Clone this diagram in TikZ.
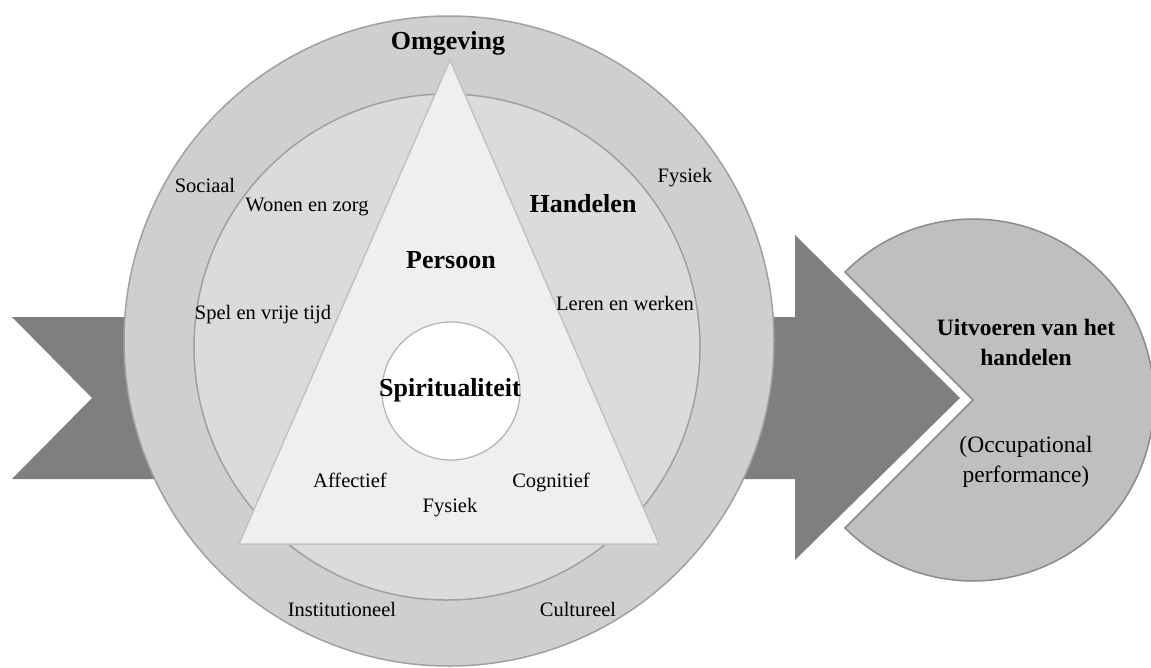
\documentclass[tikz,border=0pt]{standalone}
\usepackage{fontspec}
\setmainfont{Liberation Serif}
\definecolor{arrowc}{HTML}{7F7F7F}
\definecolor{ringc}{HTML}{CFCFCF}
\definecolor{innerc}{HTML}{DBDBDB}
\definecolor{tric}{HTML}{EFEFEF}
\definecolor{pacc}{HTML}{BFBFBF}
\definecolor{linec}{HTML}{A0A0A0}
\definecolor{trilinec}{HTML}{C2C2C2}
\definecolor{paclinec}{HTML}{8A8A8A}
\begin{document}
\begin{tikzpicture}[x=1pt,y=-1pt,
  lbl/.style={font=\fontsize{20.5}{24}\selectfont, inner sep=0pt, text=black},
  blbl/.style={font=\fontsize{26}{30}\selectfont\bfseries, inner sep=0pt, text=black},
  plbl/.style={font=\fontsize{23.5}{30}\selectfont, inner sep=0pt, align=center, text=black},
  ring/.style={draw=linec, line width=1.5pt},
  bigarrow/.style={fill=arrowc}]
\useasboundingbox (0,0) rectangle (1151,667);
% arrows behind the circle
\fill[bigarrow] (12,317) -- (300,317) -- (300,479) -- (12,479) -- (92,398) -- cycle;
\fill[bigarrow] (600,317) -- (795,317) -- (795,235) -- (960,398) -- (795,560) -- (795,479) -- (600,479) -- cycle;
% circles and triangle
\draw[ring, fill=ringc] (449,341) circle[radius=325];
\draw[ring, fill=innerc] (447,347) circle[radius=253];
\draw[draw=trilinec, line width=1.5pt, fill=tric] (450,60) -- (659,544) -- (239,544) -- cycle;
\draw[draw=linec!80, line width=1.2pt, fill=white] (451,391) circle[radius=69];
% pacman
\draw[draw=paclinec, line width=1.5pt, fill=pacc] (973,400) -- ++(225:181) arc[start angle=225, end angle=495, radius=181] -- cycle;
% labels
\node[blbl] (omg) at (448,43) {Omgeving};
\node[blbl] (pers) at (451,260) {Persoon};
\node[blbl] (spir) at (450,390) {Spiritualiteit};
\node[blbl] (hand) at (583,204) {Handelen};
\node[lbl] (soc) at (205,185) {Sociaal};
\node[lbl] (won) at (307,207) {Wonen en zorg};
\node[lbl] (fys1) at (685,178) {Fysiek};
\node[lbl] (spel) at (263,315) {Spel en vrije tijd};
\node[lbl] (leren) at (625,303) {Leren en werken};
\node[lbl] (aff) at (350,480) {Affectief};
\node[lbl] (fys2) at (450,508) {Fysiek};
\node[lbl] (cog) at (551,482) {Cognitief};
\node[lbl] (inst) at (342,609) {Institutioneel};
\node[lbl] (cult) at (578,609) {Cultureel};
\node[plbl, font=\fontsize{23.5}{30}\selectfont\bfseries] (uit) at (1026,342) {Uitvoeren van het\\handelen};
\node[plbl] (occ) at (1026,462) {(Occupational\\performance)};
\end{tikzpicture}
\end{document}
